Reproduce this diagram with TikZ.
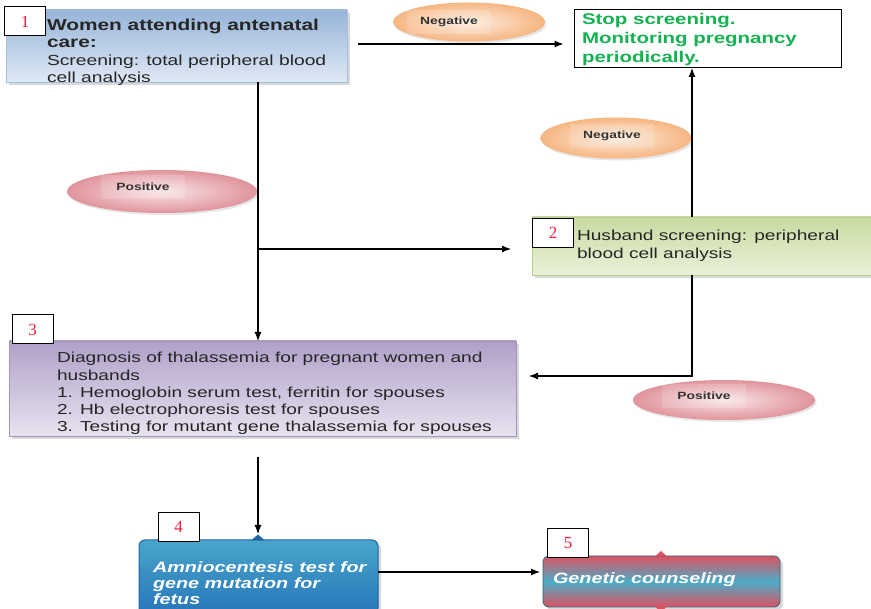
\documentclass[tikz,border=0pt]{standalone}
\usepackage{fontspec}
\setmainfont{Liberation Sans}
\newfontfamily\df[FakeStretch=1.32]{Liberation Sans}
\newfontfamily\numfont{Liberation Serif}
\usetikzlibrary{shapes.geometric,shadows,arrows.meta}
\definecolor{bonetop}{RGB}{150,180,216}
\definecolor{bonebot}{RGB}{224,233,245}
\definecolor{bonebd}{RGB}{165,190,220}
\definecolor{btwotop}{RGB}{200,218,160}
\definecolor{btwobot}{RGB}{234,241,218}
\definecolor{btwobd}{RGB}{185,205,145}
\definecolor{bthrtop}{RGB}{176,160,200}
\definecolor{bthrbot}{RGB}{232,227,240}
\definecolor{bthrbd}{RGB}{165,150,190}
\definecolor{bfourtop}{RGB}{72,165,202}
\definecolor{bfourbot}{RGB}{40,118,186}
\definecolor{bfourbd}{RGB}{32,100,160}
\definecolor{bfivered}{RGB}{220,82,98}
\definecolor{bfiveblue}{RGB}{75,172,198}
\definecolor{negin}{RGB}{253,236,222}
\definecolor{negout}{RGB}{246,182,130}
\definecolor{posin}{RGB}{249,228,230}
\definecolor{posout}{RGB}{224,148,156}
\definecolor{stopgreen}{RGB}{20,178,80}
\definecolor{numred}{RGB}{245,30,60}
\begin{document}
\begin{tikzpicture}[x=1pt,y=-1pt,
  every node/.style={inner sep=0pt,outer sep=0pt},
  numbox/.style={draw=black,line width=1pt,fill=white,minimum width=41pt,minimum height=29pt,
    font=\numfont\fontsize{17}{17}\selectfont,text=numred},
  arr/.style={line width=1.1pt,-{Latex[length=9pt,width=7pt]}},
  bigbox/.style={draw,line width=0.8pt,drop shadow={shadow xshift=3pt,shadow yshift=-3pt,opacity=0.3}},
  body/.style={anchor=north west,align=left,font=\df\fontsize{14.5}{17.3}\selectfont,text=black!85},
  whitebody/.style={anchor=north west,align=left,font=\df\bfseries\itshape\fontsize{15}{15.8}\selectfont,text=white},
  negell/.style={ellipse,shading=radial,inner color=negin,outer color=negout,
    drop shadow={shadow xshift=1.5pt,shadow yshift=-2pt,opacity=0.2}},
  posell/.style={ellipse,shading=radial,inner color=posin,outer color=posout,
    drop shadow={shadow xshift=1.5pt,shadow yshift=-2pt,opacity=0.2}},
  lbl/.style={font=\df\bfseries\fontsize{10.5}{12}\selectfont,text=black!80,
    fill=white,fill opacity=0.15,text opacity=1,minimum height=24pt,minimum width=84pt}
]
\useasboundingbox (0,0) rectangle (871,609);

% named levels
\coordinate (j1) at (258,249);
\coordinate (vx) at (692,0);
\coordinate (h1) at (0,44);
\coordinate (h2) at (0,376);
\coordinate (h3) at (0,572);

% box 1
\node[bigbox,draw=bonebd,top color=bonetop,bottom color=bonebot,minimum width=341pt,minimum height=72pt] (b1) at (176.5,46) {};
\node[body,font=\df\fontsize{14.6}{17.4}\selectfont] (t1) at (47,19) {{\fontsize{15.8}{17.4}\selectfont\bfseries Women attending antenatal}\\{\fontsize{15.8}{17.4}\selectfont\bfseries care:}\\Screening: total peripheral blood\\cell analysis};
\node[numbox] (n1) at (25,21.5) {1};

% stop box
\node[draw,line width=1pt,fill=white,minimum width=267pt,minimum height=58pt] (stop) at (708,39) {};
\node[anchor=north west,align=left,font=\df\bfseries\fontsize{15.5}{19}\selectfont,text=stopgreen] (tstop) at (582,13.5) {Stop screening.\\Monitoring pregnancy\\periodically.};

% box 2
\node[bigbox,draw=btwobd,top color=btwotop,bottom color=btwobot,minimum width=339pt,minimum height=58pt] (b2) at (701.5,246) {};
\node[body] (t2) at (577,230.3) {Husband screening: peripheral\\blood cell analysis};
\node[numbox] (n2) at (553,233) {2};

% box 3
\node[bigbox,draw=bthrbd,top color=bthrtop,bottom color=bthrbot,minimum width=507pt,minimum height=95pt] (b3) at (262.5,388.5) {};
\node[body] (t3) at (57,352.2) {Diagnosis of thalassemia for pregnant women and\\husbands\\1. Hemoglobin serum test, ferritin for spouses\\2. Hb electrophoresis test for spouses\\3. Testing for mutant gene thalassemia for spouses};
\node[numbox] (n3) at (32.5,329.5) {3};

% box 4
\node[bigbox,draw=bfourbd,line width=1pt,rounded corners=6pt,top color=bfourtop,bottom color=bfourbot,minimum width=239pt,minimum height=74pt] (b4) at (258.5,577) {};
\fill[bfourbd] (251,540.5) -- (258,534.5) -- (265,540.5) -- cycle;
\node[whitebody] (t4) at (153,561.6) {Amniocentesis test for\\gene mutation for\\fetus};
\node[numbox] (n4) at (178.5,527) {4};

% box 5
\node[bigbox,draw=bfiveblue!60!black,line width=0.8pt,rounded corners=6pt,top color=bfivered,bottom color=bfivered,middle color=bfiveblue,minimum width=237pt,minimum height=51pt] (b5) at (661.5,581.5) {};
\fill[bfivered] (655,556.5) -- (661,551) -- (667,556.5) -- cycle;
\fill[bfivered] (655,606.5) -- (661,612) -- (667,606.5) -- cycle;
\node[whitebody] (t5) at (553,573) {Genetic counseling};
\node[numbox] (n5) at (568,543) {5};

% ellipses
\node[negell,minimum width=152pt,minimum height=39pt] (neg1) at (469,22) {};
\node[lbl] (ln1) at (449,22) {Negative};
\node[negell,minimum width=151pt,minimum height=41pt] (neg2) at (616,138) {};
\node[lbl] (ln2) at (612,136) {Negative};
\node[posell,minimum width=190pt,minimum height=43pt] (pos1) at (162,191.5) {};
\node[lbl] (lp1) at (143,187) {Positive};
\node[posell,minimum width=182pt,minimum height=40pt] (pos2) at (724,400) {};
\node[lbl] (lp2) at (704,396) {Positive};

% connectors
\draw[arr] (b1.south -| j1) -- (b3.north -| j1);
\draw[arr,shorten >=21pt] (j1) -- (b2.west |- j1);
\draw[arr,shorten <=11pt,shorten >=11pt] (b1.east |- h1) -- (stop.west |- h1);
\draw[arr] (b2.north -| vx) -- (stop.south -| vx);
\draw[arr,shorten >=13pt] (b2.south -| vx) |- (b3.east |- h2);
\draw[arr,shorten <=21pt,shorten >=6pt] (b3.south -| j1) -- (b4.north -| j1);
\draw[arr,shorten >=3pt] (b4.east |- h3) -- (b5.west |- h3);
\end{tikzpicture}
\end{document}
